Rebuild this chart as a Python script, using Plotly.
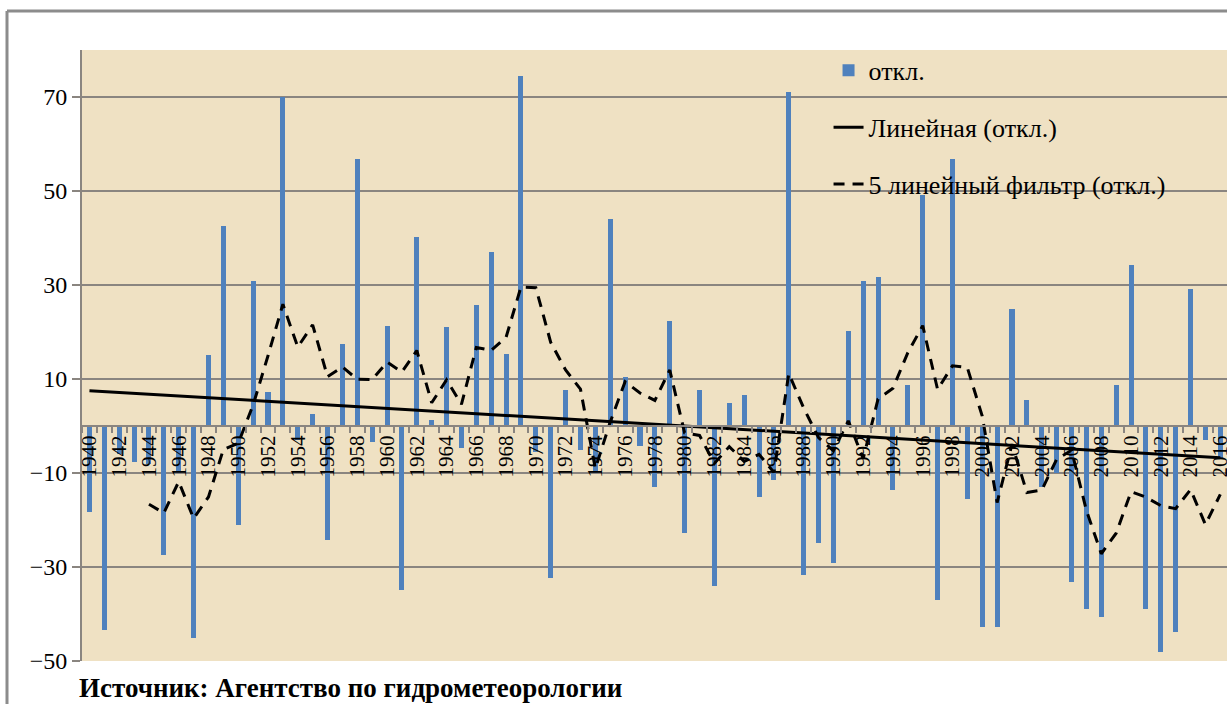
import numpy as np
import pandas as pd
import plotly.graph_objects as go

# ---------------- data ----------------
years = list(range(1940, 2017))
deviation = [
    -18.3, -43.3, -6.0, -7.7, -8.0, -27.5, -10.0, -45.1, 15.1, 42.6,  # 1940-1949
    -21.0, 30.8, 7.2, 70.0, -3.0, 2.6, -24.3, 17.5, 56.9, -3.4,       # 1950-1959
    21.3, -34.8, 40.3, 1.3, 21.0, -4.7, 25.7, 37.1, 15.3, 74.5,       # 1960-1969
    -5.5, -32.4, 7.7, -5.1, -10.0, 44.1, 10.4, -4.3, -13.0, 22.4,     # 1970-1979
    -22.8, 7.7, -34.1, 4.9, 6.6, -15.2, -11.5, 71.0, -31.8, -24.9,    # 1980-1989
    -29.1, 20.3, 30.8, 31.7, -13.6, 8.8, 49.1, -37.1, 56.9, -15.6,    # 1990-1999
    -42.8, -42.8, 24.9, 5.5, -13.0, -10.0, -33.2, -39.0, -40.7, 8.8,  # 2000-2009
    34.2, -39.0, -48.0, -43.9, 29.1, -3.0, -7.0,                      # 2010-2016
]
y_tick_values = [-50, -30, -10, 10, 30, 50, 70]
x_tick_years = years[::2]
x_tick_labels = [str(y) for y in x_tick_years]
series_names = ["откл.", "Линейная (откл.)", "5 линейный фильтр (откл.)"]
source_text = "Источник: Агентство по гидрометеорологии"

# ---------------- derived series (as Excel trendlines) ----------------
s = pd.Series(deviation, index=years, dtype=float)
moving_avg = s.rolling(5).mean()
coef = np.polyfit(years, deviation, 1)
trend = np.polyval(coef, years)

SERIF = "Liberation Serif, Times New Roman, serif"
GRID = "#8a8580"

fig = go.Figure()
fig.add_trace(go.Bar(
    x=years, y=deviation, name=series_names[0], width=0.34,
    marker=dict(color="#4F81BD", line=dict(width=0)),
    legendgroup="a",
))
fig.add_trace(go.Scatter(
    x=years, y=trend, mode="lines", name=series_names[1],
    line=dict(color="black", width=3), legendgroup="b",
))
fig.add_trace(go.Scatter(
    x=years, y=moving_avg.values, mode="lines", name=series_names[2],
    line=dict(color="black", width=3, dash="11px,8px"), legendgroup="c",
    connectgaps=False,
))

fig.update_layout(
    width=1227, height=704, autosize=False,
    paper_bgcolor="white", plot_bgcolor="#EFE1C3",
    margin=dict(l=82, r=0, t=50, b=43, autoexpand=False),
    bargap=0,
    showlegend=True,
    legend=dict(
        x=0.652, y=1.005, xanchor="left", yanchor="top",
        bgcolor="rgba(0,0,0,0)", borderwidth=0,
        font=dict(family=SERIF, size=26, color="black"),
        tracegroupgap=20, traceorder="grouped",
    ),
    xaxis=dict(
        range=[1939.5, 2016.45], automargin=False,
        anchor="free", position=50 / 130, side="bottom",
        showline=True, linecolor=GRID, linewidth=2,
        showgrid=False, zeroline=False,
        tickmode="array", tickvals=x_tick_years, ticktext=x_tick_labels,
        tickangle=-90, ticks="", ticklabeloverflow="allow",
        tickfont=dict(family=SERIF, size=21, color="black"),
        minor=dict(tickmode="array", tickvals=[y - 0.5 for y in years],
                   ticks="outside", ticklen=6, tickwidth=2, tickcolor=GRID,
                   showgrid=False),
    ),
    yaxis=dict(
        range=[-50, 80], automargin=False,
        tickmode="array", tickvals=y_tick_values,
        showgrid=True, gridcolor=GRID, gridwidth=2,
        zeroline=False,
        showline=True, linecolor=GRID, linewidth=2,
        ticks="outside", ticklen=8, tickwidth=2, tickcolor=GRID,
        tickfont=dict(family=SERIF, size=24, color="black"),
    ),
    annotations=[dict(
        text="<b>" + source_text + "</b>", xref="paper", yref="paper",
        x=-0.004, y=-0.044, xanchor="left", yanchor="middle", showarrow=False,
        font=dict(family=SERIF, size=27, color="black"),
    )],
    shapes=[
        dict(type="line", xref="paper", yref="paper", x0=-0.0655, x1=1.01,
             y0=1.0638, y1=1.0638, line=dict(color="#8c8c8c", width=3)),
        dict(type="line", xref="paper", yref="paper", x0=-0.0655, x1=-0.0655,
             y0=1.0638, y1=-0.08, line=dict(color="#8c8c8c", width=3)),
    ],
)

fig.write_html(
    "out.html",
    config={"displayModeBar": False},
    post_script="document.body.style.margin='0px';document.body.style.overflow='hidden';",
)
